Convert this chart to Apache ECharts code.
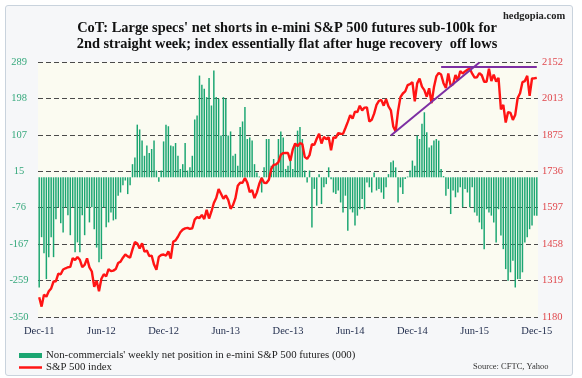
<!DOCTYPE html>
<html>
<head>
<meta charset="utf-8">
<script src="https://cdn.jsdelivr.net/npm/echarts@6/dist/echarts.min.js"></script>
<style>
  html, body { margin: 0; padding: 0; background: #ffffff; }
  #frame { position: absolute; left: 5px; top: 5px; width: 566px; height: 369px; border: 1px solid #c9d3dd; border-radius: 3px; background: #f6f7f9; }
  #chart { position: absolute; left: 0; top: 0; width: 582px; height: 378px; }
</style>
</head>
<body>
<div id="frame"></div>
<div id="chart"></div>
<script>
// ---- data (weekly, Dec 9 2011 .. Dec 4 2015) ----
const startDate = '2011-12-09';
const xTickLabels = ['Dec-11', 'Jun-12', 'Dec-12', 'Jun-13', 'Dec-13', 'Jun-14', 'Dec-14', 'Jun-15', 'Dec-15'];
const leftTickLabels = ['-350', '-259', '-167', '-76', '15', '107', '198', '289'];
const rightTickLabels = ['1180', '1319', '1458', '1597', '1736', '1875', '2013', '2152'];

// Non-commercials' net position (000)
const net2011 = [-276, -150, -190, -255];
const net2012 = [-200, -150, -200, -105, -75, -115, -138, -75, -95, -145, -75, -188, -163, -188, -95, -145, -75, -113, -75, -130, -176, -213, -205, -75, -125, -113, -88, -108, -105, -46, -38, -20, -8, -42, -20, 33, 50, 132, 120, 92, 54, 80, 61, 71, 92, 17, -11, 17, 90, 132, 128, 80];
const net2013 = [78, 86, 54, 21, 33, 86, 17, 25, 54, 145, 155, 255, 232, 222, 201, 249, 180, 268, 201, 197, 105, 201, 197, 105, 115, 54, 59, 29, 126, 140, 176, 96, 100, 92, 33, 12, 2, -38, 25, 96, 96, 29, 46, 33, 96, 115, 100, 21, 29, 54, 21, 80];
const net2014 = [117, 126, 96, 17, -13, 17, -126, -29, -71, 8, -67, -25, -17, 25, -5, -38, -42, -33, -63, -88, -46, -134, -80, -88, -121, -96, -80, -54, -80, -13, -25, -38, 12, -33, -29, -38, -54, -25, 8, 38, 42, 25, -63, -25, -42, -4, 2, 17, 42, 29, 105, 96];
const net2015 = [134, 163, 113, 75, 80, 92, 96, 92, 21, 3, -46, -29, -92, -33, -50, -38, -25, -75, -29, -38, -75, -25, -88, -96, -113, -130, -180, -80, -88, -96, -113, -163, -80, -146, -180, -230, -259, -238, -209, -276, -255, -255, -238, -163, -150, -130, -121, -96, -96];

// S&P 500 index
const spx2011 = [1255.19, 1219.66, 1265.33, 1257.60];
const spx2012 = [1277.81, 1289.09, 1315.38, 1316.33, 1344.90, 1342.64, 1361.23, 1365.74, 1369.63, 1370.87, 1404.17, 1397.11, 1408.47, 1398.08, 1370.26, 1378.53, 1403.36, 1369.10, 1353.39, 1295.22, 1317.82, 1278.04, 1325.66, 1342.84, 1335.02, 1362.16, 1354.68, 1356.78, 1362.66, 1385.97, 1390.99, 1405.87, 1418.16, 1411.13, 1406.58, 1437.92, 1465.77, 1460.15, 1440.67, 1460.93, 1428.59, 1433.19, 1411.94, 1414.20, 1379.85, 1359.88, 1409.15, 1416.18, 1418.07, 1413.58, 1430.15, 1402.43];
const spx2013 = [1466.47, 1472.05, 1485.98, 1502.96, 1513.17, 1517.93, 1519.79, 1515.60, 1518.20, 1551.18, 1560.70, 1556.89, 1569.19, 1553.28, 1588.85, 1555.25, 1582.24, 1614.42, 1633.70, 1667.47, 1649.60, 1630.74, 1643.38, 1626.73, 1592.43, 1606.28, 1631.89, 1680.19, 1692.09, 1691.65, 1709.67, 1691.42, 1655.83, 1663.50, 1632.97, 1655.17, 1687.99, 1709.91, 1691.75, 1690.50, 1703.20, 1744.50, 1759.77, 1761.64, 1770.61, 1798.18, 1804.76, 1805.81, 1805.09, 1775.32, 1818.32, 1841.40];
const spx2014 = [1831.37, 1842.37, 1838.70, 1790.29, 1782.59, 1797.02, 1838.63, 1836.25, 1859.45, 1878.04, 1841.13, 1866.52, 1857.62, 1865.09, 1815.69, 1864.85, 1863.40, 1881.14, 1878.48, 1877.86, 1900.53, 1923.57, 1949.44, 1936.16, 1962.87, 1960.96, 1985.44, 1967.57, 1978.22, 1978.34, 1925.15, 1931.59, 1955.06, 1988.40, 2003.37, 2007.71, 1985.54, 2010.40, 1982.85, 1967.90, 1906.13, 1886.76, 1964.58, 2018.05, 2031.92, 2039.82, 2063.50, 2067.56, 2075.37, 2002.33, 2070.65, 2088.77];
const spx2015 = [2058.20, 2044.81, 2019.42, 2051.82, 1994.99, 2055.47, 2096.99, 2110.30, 2104.50, 2071.26, 2053.40, 2108.10, 2061.02, 2066.96, 2102.06, 2081.18, 2117.69, 2108.29, 2116.10, 2122.73, 2126.06, 2107.39, 2092.83, 2094.11, 2109.99, 2101.49, 2076.78, 2076.62, 2126.64, 2079.65, 2103.84, 2077.57, 2091.54, 1970.89, 1988.87, 1921.22, 1961.05, 1958.08, 1931.34, 1951.36, 2014.89, 2033.11, 2075.15, 2079.36, 2099.20, 2023.04, 2089.17, 2090.11, 2091.69];

// annotation lines (week index, index level)
const trendLine = [[147, 1872], [184, 2150]];
const resistanceLine = [[168, 2133], [208, 2133]];

// ---- build ----
const netPos = [].concat(net2011, net2012, net2013, net2014, net2015);
const spx = [].concat(spx2011, spx2012, spx2013, spx2014, spx2015);
const categories = [];
{
  const d0 = new Date(startDate + 'T00:00:00Z');
  for (let i = 0; i < spx.length; i++) {
    const d = new Date(d0.getTime() + i * 7 * 86400000);
    categories.push(d.toISOString().slice(0, 10));
  }
}
const labelEvery = 26;
const leftMin = -350, leftMax = 289, rightMin = 1180, rightMax = 2152, nSteps = 7;
const serif = "'Liberation Serif', 'Times New Roman', serif";

const nameBar = "Non-commercials' weekly net position in e-mini S&P 500 futures (000)";
const nameLine = 'S&P 500 index';

const chart = echarts.init(document.getElementById('chart'), null, { renderer: 'canvas' });
chart.setOption({
  backgroundColor: 'transparent',
  animation: false,
  title: {
    text: "CoT: Large specs' net shorts in e-mini S&P 500 futures sub-100k for\n2nd straight week; index essentially flat after huge recovery  off lows",
    left: 287, top: 20, textAlign: 'center', padding: 0,
    textStyle: { fontFamily: serif, fontWeight: 'bold', fontSize: 14.4, lineHeight: 16, color: '#111' }
  },
  graphic: [
    { type: 'text', left: 503, top: 11, style: { text: 'hedgopia.com', font: "bold 10.5px 'Liberation Serif', serif", fill: '#222' } },
    { type: 'text', left: 473, top: 362, style: { text: 'Source: CFTC, Yahoo', font: "8.5px 'Liberation Serif', serif", fill: '#333' } }
  ],
  legend: [
    { data: [nameBar], orient: 'vertical', left: 19, top: 350, itemWidth: 23, itemHeight: 5, padding: 0,
      textStyle: { fontFamily: serif, fontSize: 10.8, color: '#222', padding: [0, 0, 0, -1] }, icon: 'rect' },
    { data: [nameLine], orient: 'vertical', left: 19, top: 362, itemWidth: 23, itemHeight: 2.5, padding: 0,
      textStyle: { fontFamily: serif, fontSize: 10.8, color: '#222', padding: [0, 0, 0, -1] }, icon: 'rect' }
  ],
  grid: { left: 38, right: 44, top: 62, bottom: 61, show: true, backgroundColor: '#fbfbf1', borderWidth: 0 },
  xAxis: {
    type: 'category', data: categories, boundaryGap: true,
    axisLine: { show: false }, axisTick: { show: false },
    axisLabel: {
      interval: labelEvery - 1, margin: 9,
      fontFamily: serif, fontSize: 10.5, color: '#1e2a4a',
      formatter: (v) => xTickLabels[categories.indexOf(v) / labelEvery] || ''
    },
    splitLine: { show: false }
  },
  yAxis: [
    {
      type: 'value', min: leftMin, max: leftMax, interval: (leftMax - leftMin) / nSteps,
      axisLine: { show: false }, axisTick: { show: false },
      axisLabel: {
        align: 'center', margin: 19, fontFamily: serif, fontSize: 10.5, color: '#35a87c',
        formatter: (v) => leftTickLabels[Math.round((v - leftMin) / ((leftMax - leftMin) / nSteps))]
      },
      splitLine: { show: true, lineStyle: { color: '#4a4a4a', type: [5, 3], width: 1 } }
    },
    {
      type: 'value', min: rightMin, max: rightMax, interval: (rightMax - rightMin) / nSteps,
      position: 'right',
      axisLine: { show: false }, axisTick: { show: false },
      axisLabel: {
        margin: 4, fontFamily: serif, fontSize: 10.5, color: '#e0474c',
        formatter: (v) => rightTickLabels[Math.round((v - rightMin) / ((rightMax - rightMin) / nSteps))]
      },
      splitLine: { show: false }
    }
  ],
  series: [
    {
      name: nameBar, type: 'bar', yAxisIndex: 0, data: netPos,
      barWidth: '62%', itemStyle: { color: '#1ba672' }, z: 2
    },
    {
      name: nameLine, type: 'line', yAxisIndex: 1, data: spx,
      symbol: 'none', lineStyle: { color: '#ff1414', width: 2.4 }, itemStyle: { color: '#ff1414' }, z: 3,
      markLine: {
        silent: true, symbol: ['none', 'none'], label: { show: false },
        lineStyle: { color: '#7d2fa3', width: 2, type: 'solid' },
        data: [
          [{ coord: trendLine[0] }, { coord: trendLine[1] }],
          [{ coord: resistanceLine[0] }, { coord: resistanceLine[1] }]
        ]
      }
    }
  ]
});
</script>
</body>
</html>
